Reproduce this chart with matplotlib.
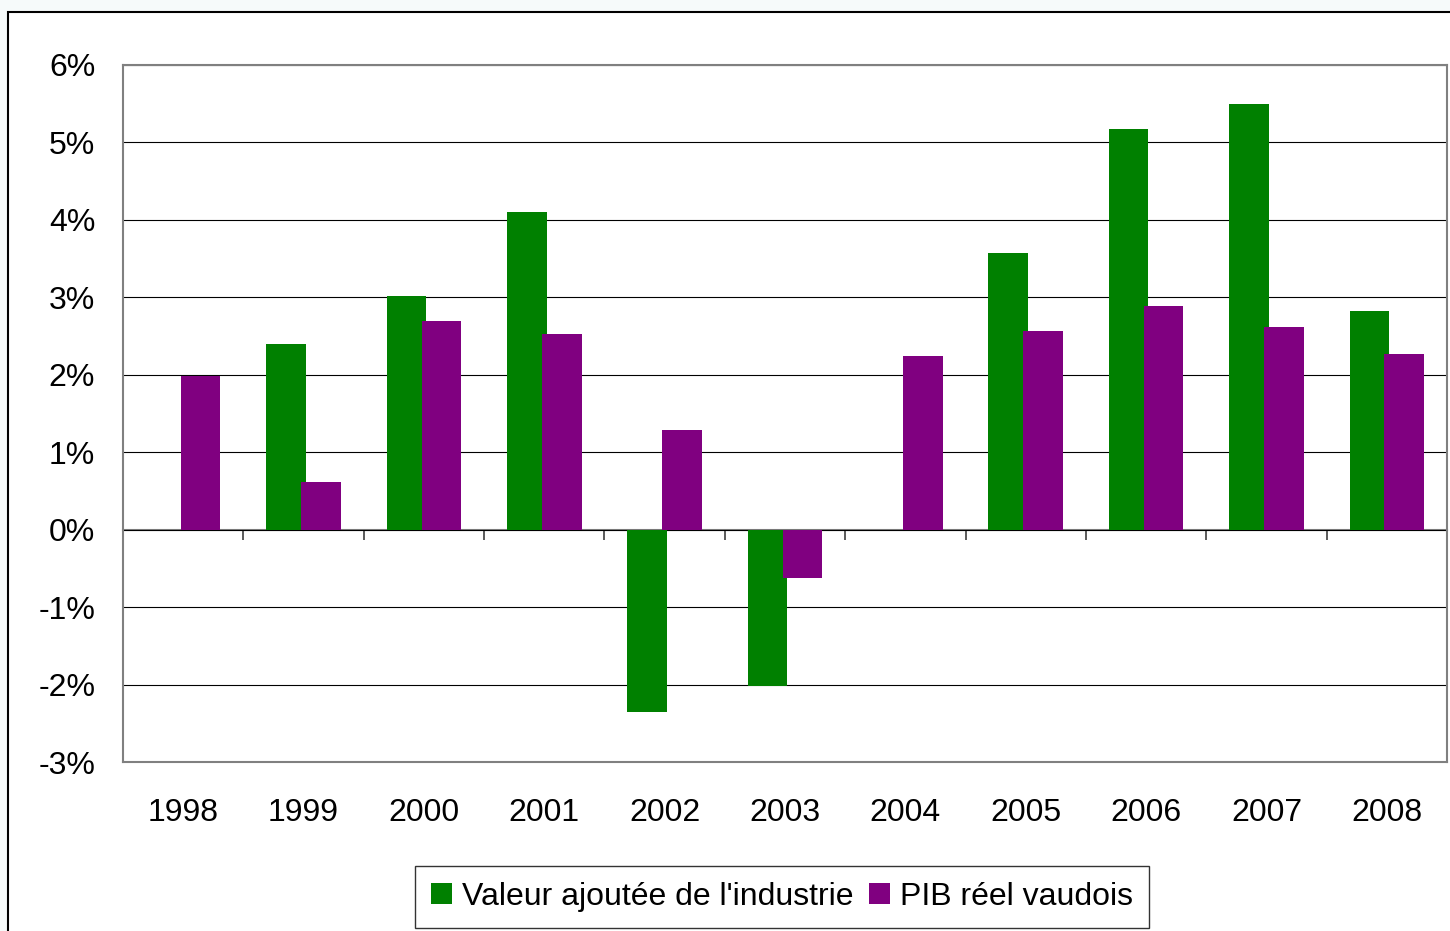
import matplotlib
matplotlib.use("Agg")
import matplotlib.pyplot as plt
from matplotlib.patches import Rectangle
import numpy as np

# ----- donnees (variation annuelle, en %) -----
years = ["1998", "1999", "2000", "2001", "2002", "2003",
         "2004", "2005", "2006", "2007", "2008"]
valeur_ajoutee = [np.nan, 2.40, 3.02, 4.10, -2.36, -2.02,
                  np.nan, 3.57, 5.17, 5.50, 2.82]
pib_reel = [1.98, 0.61, 2.70, 2.53, 1.29, -0.63,
            2.24, 2.57, 2.89, 2.62, 2.27]
yticks = [-3, -2, -1, 0, 1, 2, 3, 4, 5, 6]

GREEN = "#008000"
PURPLE = "#800080"
FRAME = "#808080"

plt.rcParams["font.family"] = ["Liberation Sans", "DejaVu Sans"]

fig = plt.figure(figsize=(14.5, 9.31), dpi=100)
fig.patch.set_facecolor("#f6fafa")

# cadre du graphique (fond blanc, bord noir en haut et a gauche)
fig.patches.append(Rectangle((8 / 1450, -0.05), 1.05, 0.05 + (931 - 12) / 931,
                             transform=fig.transFigure, facecolor="white",
                             edgecolor="black", linewidth=1.5, zorder=-10))

ax = fig.add_axes([123 / 1450, (931 - 762) / 931,
                   (1447 - 123) / 1450, (762 - 65) / 931])

x = np.arange(len(years))
w = 0.33
off = 0.145
ax.bar(x - off, valeur_ajoutee, width=w, color=GREEN,
       label="Valeur ajoutée de l'industrie", zorder=3)
ax.bar(x + off, pib_reel, width=w, color=PURPLE,
       label="PIB réel vaudois", zorder=4)

ax.set_xlim(-0.5, len(years) - 0.5)
ax.set_ylim(-3, 6)
ax.set_yticks(yticks)
ax.set_yticklabels([f"{v}%" for v in yticks])
ax.yaxis.grid(True, color="black", linewidth=0.8, zorder=1)
ax.set_axisbelow(True)
ax.tick_params(axis="y", length=0, pad=20, labelsize=23)
ax.set_xticks(x)
ax.set_xticklabels(years)
ax.tick_params(axis="x", length=0, pad=26, labelsize=23)

for sp in ax.spines.values():
    sp.set_color(FRAME)
    sp.set_linewidth(1.5)

# axe des categories a 0 % avec graduations entre les annees
sec = ax.secondary_xaxis(3 / 9)
sec.set_xticks(np.arange(-0.5, len(years), 1.0))
sec.set_xticklabels([])
sec.tick_params(axis="x", direction="out", length=7, width=1.2, color="#404040")
sec.spines["bottom"].set_color(FRAME)
sec.spines["bottom"].set_linewidth(1.5)

leg = fig.legend(loc="center", bbox_to_anchor=(782 / 1450, (931 - 897) / 931),
                 ncol=2, fontsize=23, frameon=True, fancybox=False,
                 handlelength=0.65, handleheight=0.65, handletextpad=0.3,
                 columnspacing=0.5, borderpad=0.5, borderaxespad=0)
leg.get_frame().set_edgecolor("black")
leg.get_frame().set_linewidth(1.0)

plt.savefig("out.png", dpi=100)
plt.close()
